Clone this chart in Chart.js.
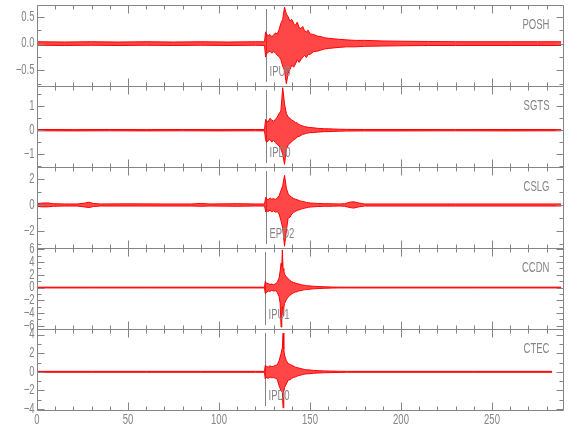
<!DOCTYPE html>
<html>
<head>
<meta charset="utf-8">
<script src="https://cdn.jsdelivr.net/npm/chart.js@4.4.0/dist/chart.umd.min.js"></script>
<style>
  html, body { margin: 0; padding: 0; background: #fff; }
</style>
</head>
<body>
<canvas id="seis" width="580" height="440"></canvas>
<script>
// stations, top panel first
const stations = ['POSH', 'SGTS', 'CSLG', 'CCDN', 'CTEC'];
const pickNames = ['IPU0', 'IPD0', 'EPD2', 'IPU1', 'IPD0'];
const pickTimes = [125.6, 125.6, 125.7, 125.3, 125.4];

const yMin = [-0.79, -1.54, -3.34, -6.5, -4.1];
const yMax = [0.72, 1.85, 2.95, 6.2, 4.6];
const yTicks = [[-0.5, 0, 0.5], [-1, 0, 1], [-2, 0, 2], [-6, -4, -2, 0, 2, 4, 6], [-4, -2, 0, 2, 4]];
const yMinorStep = [0.25, 0.5, 1, 1, 1];
const yDecimals = [1, 0, 0, 0, 0];
const xTicks = [0, 50, 100, 150, 200, 250];

// trace envelopes (seconds, upper, lower)
const poshT = [0, 15, 30, 45, 60, 75, 90, 105, 120, 125, 125.6,
  126, 127, 128, 129, 130, 131, 132, 133, 134, 135, 136, 137, 138, 139, 140, 141, 142, 143, 144, 145, 146, 147, 148, 149, 150,
  152, 154, 156, 158, 160, 163, 166, 170, 175, 180, 190, 200, 215, 230, 245, 260, 275, 288];
const poshHi = [.035, .03, .035, .03, .035, .03, .035, .03, .035, .035, .22,
  .18, .15, .17, .13, .16, .2, .18, .26, .38, .45, .68, .55, .5, .42, .45, .38, .34, .4, .3, .28, .32, .24, .22, .25, .18,
  .17, .14, .13, .11, .1, .09, .08, .07, .06, .06, .05, .045, .04, .035, .035, .035, .035, .035];
const poshLo = [-.03, -.035, -.03, -.035, -.03, -.035, -.03, -.035, -.03, -.035, -.25,
  -.2, -.16, -.14, -.18, -.15, -.17, -.22, -.24, -.3, -.42, -.5, -.75, -.55, -.48, -.4, -.44, -.38, -.3, -.35, -.3, -.25, -.22, -.26, -.2, -.2,
  -.15, -.14, -.12, -.1, -.09, -.08, -.07, -.06, -.06, -.05, -.045, -.04, -.035, -.035, -.035, -.035, -.035, -.035];

const sgtsT = [0, 20, 40, 60, 80, 100, 120, 125, 125.6,
  126, 127, 128, 129, 130, 131, 132, 133, 134, 135, 136, 137, 138, 139, 140, 141, 142, 143, 144, 145, 146, 147, 148, 149, 150,
  152, 154, 156, 158, 160, 163, 166, 170, 180, 200, 230, 260, 288];
const sgtsHi = [.03, .025, .03, .025, .03, .025, .03, .03, .45,
  .4, .35, .5, .42, .38, .45, .55, .7, .8, 1.78, 1.1, .7, .55, .5, .42, .38, .32, .3, .24, .2, .18, .15, .14, .12, .11,
  .1, .08, .07, .06, .06, .05, .04, .035, .03, .03, .025, .03, .025];
const sgtsLo = [-.025, -.03, -.025, -.03, -.025, -.03, -.025, -.03, -.4,
  -.5, -.45, -.38, -.5, -.42, -.52, -.6, -.65, -.78, -1.0, -1.43, -.8, -.62, -.55, -.48, -.4, -.36, -.28, -.26, -.22, -.17, -.16, -.13, -.12, -.1,
  -.1, -.08, -.07, -.06, -.06, -.05, -.04, -.035, -.03, -.03, -.025, -.03, -.025];

const cslgT = [0, 3, 6, 9, 15, 22, 26, 28.5, 31, 35, 50, 70, 85, 90, 95, 110, 120, 125, 125.7,
  126, 127, 128, 129, 130, 131, 132, 133, 134, 135, 136, 137, 138, 139, 140, 141, 142, 143, 144, 145, 146, 147, 148, 149, 150,
  152, 154, 156, 158, 160, 163, 166, 169, 172, 174, 177, 180, 200, 230, 260, 288];
const cslgHi = [.1, .15, .16, .1, .08, .08, .14, .22, .12, .08, .09, .08, .08, .12, .08, .1, .08, .08, .6,
  .5, .4, .55, .45, .5, .42, .58, .7, 1.1, 1.5, 2.3, 1.3, .87, .7, .6, .5, .45, .4, .35, .3, .28, .25, .2, .18, .15,
  .14, .12, .11, .1, .1, .09, .08, .1, .22, .25, .15, .08, .08, .08, .08, .08];
const cslgLo = [-.1, -.15, -.14, -.1, -.08, -.08, -.15, -.2, -.12, -.08, -.08, -.08, -.08, -.1, -.08, -.1, -.08, -.08, -.55,
  -.45, -.5, -.4, -.55, -.45, -.57, -.5, -.7, -1.2, -1.8, -3.2, -2.0, -1.0, -.95, -.7, -.57, -.5, -.42, -.38, -.32, -.28, -.25, -.22, -.18, -.16,
  -.14, -.12, -.11, -.1, -.1, -.09, -.08, -.1, -.2, -.24, -.14, -.08, -.08, -.08, -.08, -.08];

const ccdnT = [0, 30, 60, 90, 120, 125, 125.4,
  126, 127, 128, 129, 130, 131, 132, 133, 133.6, 134.1, 134.5, 134.8, 135.2, 135.6,
  136, 137, 138, 139, 140, 141, 142, 143, 144, 145, 146, 147, 148,
  150, 152, 155, 158, 162, 166, 170, 200, 240, 288];
const ccdnHi = [.06, .06, .06, .06, .06, .06, .95,
  .7, .6, .5, .55, .45, .6, .8, 1.5, 2.6, 3.8, 3.3, 5.9, 3.0, 2.6,
  2.1, 1.7, 1.4, 1.1, .9, .8, .7, .6, .55, .45, .4, .35, .3,
  .25, .2, .15, .12, .08, .06, .06, .06, .06, .06];
const ccdnLo = [-.06, -.06, -.06, -.06, -.06, -.06, -.9,
  -.8, -.55, -.6, -.45, -.55, -.5, -.75, -1.4, -2.5, -6.2, -3.6, -3.0, -4.4, -3.2,
  -2.5, -1.9, -1.5, -1.2, -1.0, -.8, -.7, -.65, -.5, -.5, -.4, -.35, -.32,
  -.25, -.2, -.15, -.12, -.08, -.06, -.06, -.06, -.06, -.06];

const ctecT = [0, 30, 60, 90, 120, 125, 125.4,
  126, 127, 128, 129, 130, 131, 132, 133, 134, 134.8, 135.2, 135.6, 136,
  137, 138, 139, 140, 141, 142, 143, 144, 145, 146, 147, 148,
  150, 152, 155, 158, 162, 166, 170, 200, 240, 283];
const ctecHi = [.05, .05, .05, .05, .05, .05, .7,
  .6, .5, .65, .55, .6, .7, .75, 1.2, 1.9, 2.6, 4.15, 2.4, 1.8,
  1.2, .9, .8, .7, .6, .5, .45, .4, .35, .3, .25, .22,
  .2, .15, .12, .1, .08, .06, .05, .05, .05, .05];
const ctecLo = [-.05, -.05, -.05, -.05, -.05, -.05, -.77,
  -.6, -.7, -.55, -.65, -.6, -.7, -.8, -1.5, -2.0, -2.2, -3.87, -2.1, -1.7,
  -1.3, -.9, -.85, -.7, -.6, -.55, -.45, -.4, -.35, -.3, -.25, -.22,
  -.2, -.15, -.12, -.1, -.08, -.06, -.05, -.05, -.05, -.05];

const traces = [
  [poshT, poshHi, poshLo],
  [sgtsT, sgtsHi, sgtsLo],
  [cslgT, cslgHi, cslgLo],
  [ccdnT, ccdnHi, ccdnLo],
  [ctecT, ctecHi, ctecLo]
];

const gray = '#858585';
const textFont = "14px 'Liberation Sans', Arial, sans-serif";
const squeeze = 0.68;   // narrow plotting-font look

// build datasets: upper edge, then lower edge filled back to it
const datasets = [];
traces.forEach(([t, hi, lo], i) => {
  const common = {
    yAxisID: 'y' + i,
    borderColor: '#ff0000',
    borderWidth: 1,
    pointRadius: 0,
    tension: 0
  };
  datasets.push(Object.assign({}, common, {
    label: stations[i],
    data: t.map((x, k) => ({x: x, y: hi[k]})),
    fill: false
  }));
  datasets.push(Object.assign({}, common, {
    label: stations[i] + ' low',
    data: t.map((x, k) => ({x: x, y: lo[k]})),
    fill: '-1',
    backgroundColor: 'rgba(255,0,0,0.72)'
  }));
});

const scales = {
  x: {
    type: 'linear',
    min: 0,
    max: 289,
    position: 'bottom',
    grid: {display: false, drawTicks: false},
    border: {display: false},
    afterBuildTicks: s => { s.ticks = xTicks.map(v => ({value: v})); },
    afterFit: s => { s.height = 30; },
    ticks: {display: false}
  }
};
stations.forEach((s, i) => {
  scales['y' + i] = {
    type: 'linear',
    position: 'left',
    stack: 'traces',
    stackWeight: 1,
    weight: stations.length - i,
    min: yMin[i],
    max: yMax[i],
    grid: {display: false, drawTicks: false},
    border: {display: false},
    afterBuildTicks: sc => { sc.ticks = yTicks[i].map(v => ({value: v})); },
    afterFit: sc => { sc.width = 37; },
    ticks: {display: false}
  };
});

function narrowText(ctx, txt, x, y, align) {
  ctx.save();
  ctx.translate(x, y);
  ctx.scale(squeeze, 1);
  ctx.textAlign = align;
  ctx.fillText(txt, 0, 0);
  ctx.restore();
}

function fmtTick(v, dec) {
  return (v < 0 ? '\u2212' : '') + Math.abs(v).toFixed(dec);
}

// frames, inward ticks, labels and pick marks
const seisDecor = {
  id: 'seisDecor',
  beforeDatasetsDraw(chart) {
    // pick lines sit under the traces
    const ctx = chart.ctx;
    const xs = chart.scales.x;
    ctx.save();
    ctx.strokeStyle = gray;
    ctx.lineWidth = 1;
    stations.forEach((s, i) => {
      const ys = chart.scales['y' + i];
      const px = Math.round(xs.getPixelForValue(pickTimes[i])) + 0.5;
      ctx.beginPath();
      ctx.moveTo(px, ys.top + 4);
      ctx.lineTo(px, ys.bottom - 4);
      ctx.stroke();
    });
    ctx.restore();
  },
  afterDatasetsDraw(chart) {
    const ctx = chart.ctx;
    const xs = chart.scales.x;
    const area = chart.chartArea;
    const L = Math.round(area.left) + 0.5;
    const R = Math.round(area.right) + 0.5;
    ctx.save();
    ctx.strokeStyle = gray;
    ctx.fillStyle = gray;
    ctx.lineWidth = 1;
    ctx.font = textFont;
    ctx.textBaseline = 'middle';
    stations.forEach((s, i) => {
      const ys = chart.scales['y' + i];
      const T = Math.round(ys.top) + 0.5;
      const B = Math.round(ys.bottom) + 0.5;
      ctx.beginPath();
      ctx.rect(L, T, R - L, B - T);
      // x ticks on top and bottom edges
      for (let t = 0; t <= 280; t += 10) {
        const px = Math.round(xs.getPixelForValue(t)) + 0.5;
        const len = t % 50 === 0 ? 8 : 4;
        ctx.moveTo(px, T); ctx.lineTo(px, T + len);
        ctx.moveTo(px, B); ctx.lineTo(px, B - len);
      }
      // y ticks on left and right edges
      const step = yMinorStep[i];
      for (let v = Math.ceil(yMin[i] / step) * step; v <= yMax[i] + 1e-9; v += step) {
        const major = yTicks[i].some(m => Math.abs(m - v) < 1e-6);
        const len = major ? 7 : 4;
        const py = Math.round(ys.getPixelForValue(v)) + 0.5;
        ctx.moveTo(L, py); ctx.lineTo(L + len, py);
        ctx.moveTo(R, py); ctx.lineTo(R - len, py);
      }
      ctx.stroke();
      // y tick labels
      yTicks[i].forEach(v => {
        narrowText(ctx, fmtTick(v, yDecimals[i]), L - 3, ys.getPixelForValue(v), 'right');
      });
      narrowText(ctx, s, R - 14, ys.top + 20, 'right');
      // pick label beside its line
      const pxPick = Math.round(xs.getPixelForValue(pickTimes[i])) + 0.5;
      narrowText(ctx, pickNames[i], pxPick + 3, ys.bottom - 14, 'left');
    });
    // x tick labels under the bottom panel
    xTicks.forEach(v => {
      narrowText(ctx, String(v), xs.getPixelForValue(v), area.bottom + 10, 'center');
    });
    ctx.restore();
  }
};

new Chart(document.getElementById('seis'), {
  type: 'line',
  data: {datasets: datasets},
  options: {
    responsive: false,
    animation: false,
    layout: {padding: {left: 0, right: 17, top: 5, bottom: 0}},
    plugins: {legend: {display: false}, tooltip: {enabled: false}},
    scales: scales
  },
  plugins: [seisDecor]
});
</script>
</body>
</html>
